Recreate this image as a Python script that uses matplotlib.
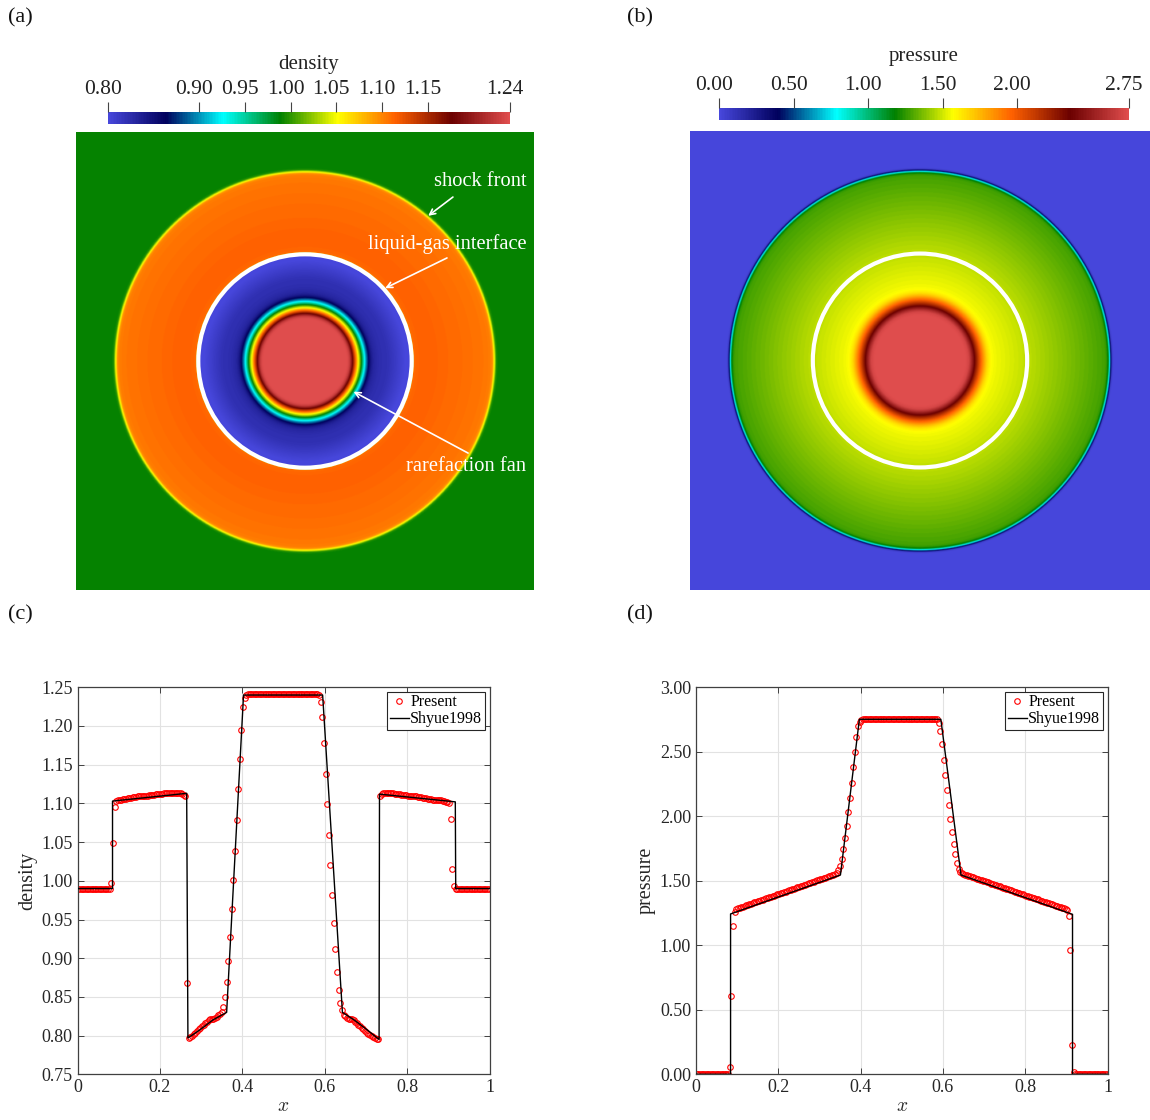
import numpy as np
import matplotlib
matplotlib.use('Agg')
import matplotlib.pyplot as plt
from matplotlib.colors import LinearSegmentedColormap
from matplotlib.patches import Circle
from matplotlib.transforms import ScaledTranslation

plt.rcParams['font.family'] = ['Liberation Serif', 'DejaVu Serif']
plt.rcParams['mathtext.fontset'] = 'cm'

# sampled cut y = 0.5 through the 2D solution (cell centres of the line)
x_present = np.linspace(0.002, 0.998, 250)

rho_present = [
    0.990, 0.990, 0.990, 0.990, 0.990, 0.990, 0.990, 0.990, 0.990, 0.990,
    0.990, 0.990, 0.990, 0.990, 0.990, 0.990, 0.990, 0.990, 0.990, 0.990,
    0.997, 1.049, 1.095, 1.103, 1.104, 1.105, 1.105, 1.106, 1.106, 1.106,
    1.107, 1.107, 1.107, 1.108, 1.108, 1.108, 1.109, 1.109, 1.109, 1.110,
    1.110, 1.110, 1.110, 1.111, 1.111, 1.111, 1.111, 1.112, 1.112, 1.112,
    1.112, 1.112, 1.113, 1.113, 1.113, 1.113, 1.113, 1.114, 1.114, 1.114,
    1.114, 1.113, 1.113, 1.112, 1.111, 1.110, 0.868, 0.797, 0.798, 0.800,
    0.802, 0.804, 0.806, 0.808, 0.810, 0.812, 0.814, 0.816, 0.818, 0.820,
    0.821, 0.822, 0.822, 0.823, 0.824, 0.826, 0.828, 0.831, 0.837, 0.850,
    0.869, 0.896, 0.928, 0.963, 1.001, 1.039, 1.079, 1.119, 1.158, 1.195,
    1.224, 1.236, 1.240, 1.241, 1.241, 1.241, 1.241, 1.241, 1.241, 1.241,
    1.241, 1.241, 1.241, 1.241, 1.241, 1.241, 1.241, 1.241, 1.241, 1.241,
    1.241, 1.241, 1.241, 1.241, 1.241, 1.241, 1.241, 1.241, 1.241, 1.241,
    1.241, 1.241, 1.241, 1.241, 1.241, 1.241, 1.241, 1.241, 1.241, 1.241,
    1.241, 1.241, 1.241, 1.241, 1.241, 1.241, 1.240, 1.231, 1.211, 1.178,
    1.138, 1.099, 1.059, 1.020, 0.982, 0.946, 0.912, 0.882, 0.859, 0.842,
    0.833, 0.827, 0.825, 0.823, 0.822, 0.822, 0.821, 0.820, 0.818, 0.816,
    0.814, 0.812, 0.810, 0.808, 0.806, 0.804, 0.802, 0.801, 0.799, 0.798,
    0.797, 0.796, 0.795, 1.110, 1.112, 1.113, 1.113, 1.113, 1.113, 1.113,
    1.113, 1.113, 1.112, 1.112, 1.112, 1.112, 1.111, 1.111, 1.111, 1.111,
    1.110, 1.110, 1.110, 1.109, 1.109, 1.109, 1.108, 1.108, 1.108, 1.107,
    1.107, 1.107, 1.106, 1.106, 1.106, 1.105, 1.105, 1.105, 1.104, 1.104,
    1.104, 1.103, 1.103, 1.102, 1.102, 1.100, 1.080, 1.015, 0.993, 0.990,
    0.990, 0.990, 0.990, 0.990, 0.990, 0.990, 0.990, 0.990, 0.990, 0.990,
    0.990, 0.990, 0.990, 0.990, 0.990, 0.990, 0.990, 0.990, 0.990, 0.990,
]

p_present = [
    0.000, 0.000, 0.000, 0.000, 0.000, 0.000, 0.000, 0.000, 0.000, 0.000,
    0.000, 0.000, 0.000, 0.000, 0.000, 0.000, 0.000, 0.000, 0.000, 0.000,
    0.057, 0.605, 1.150, 1.256, 1.279, 1.287, 1.291, 1.296, 1.300, 1.305,
    1.309, 1.314, 1.318, 1.323, 1.327, 1.332, 1.336, 1.341, 1.345, 1.350,
    1.354, 1.359, 1.363, 1.368, 1.372, 1.377, 1.381, 1.386, 1.390, 1.395,
    1.399, 1.404, 1.408, 1.413, 1.417, 1.422, 1.426, 1.431, 1.435, 1.440,
    1.444, 1.449, 1.453, 1.458, 1.462, 1.467, 1.471, 1.476, 1.480, 1.485,
    1.489, 1.494, 1.498, 1.503, 1.507, 1.512, 1.516, 1.521, 1.525, 1.530,
    1.534, 1.539, 1.543, 1.548, 1.555, 1.563, 1.584, 1.618, 1.669, 1.744,
    1.835, 1.928, 2.034, 2.145, 2.261, 2.380, 2.501, 2.612, 2.703, 2.729,
    2.747, 2.752, 2.752, 2.752, 2.752, 2.752, 2.752, 2.752, 2.752, 2.752,
    2.752, 2.752, 2.752, 2.752, 2.752, 2.752, 2.752, 2.752, 2.752, 2.752,
    2.752, 2.752, 2.752, 2.752, 2.752, 2.752, 2.752, 2.752, 2.752, 2.752,
    2.752, 2.752, 2.752, 2.752, 2.752, 2.752, 2.752, 2.752, 2.752, 2.752,
    2.752, 2.752, 2.752, 2.752, 2.752, 2.752, 2.752, 2.726, 2.661, 2.558,
    2.439, 2.320, 2.204, 2.090, 1.982, 1.881, 1.785, 1.708, 1.640, 1.594,
    1.566, 1.557, 1.552, 1.548, 1.543, 1.539, 1.535, 1.530, 1.526, 1.521,
    1.517, 1.513, 1.508, 1.504, 1.500, 1.495, 1.491, 1.487, 1.482, 1.478,
    1.474, 1.469, 1.465, 1.460, 1.456, 1.452, 1.447, 1.443, 1.439, 1.434,
    1.430, 1.426, 1.421, 1.417, 1.412, 1.408, 1.404, 1.399, 1.395, 1.391,
    1.386, 1.382, 1.378, 1.373, 1.369, 1.365, 1.360, 1.356, 1.351, 1.347,
    1.343, 1.338, 1.334, 1.330, 1.325, 1.321, 1.317, 1.312, 1.308, 1.304,
    1.299, 1.295, 1.290, 1.286, 1.280, 1.274, 1.227, 0.964, 0.227, 0.016,
    0.000, 0.000, 0.000, 0.000, 0.000, 0.000, 0.000, 0.000, 0.000, 0.000,
    0.000, 0.000, 0.000, 0.000, 0.000, 0.000, 0.000, 0.000, 0.000, 0.000,
]

# reference solution (Shyue 1998)
shyue_rho_x = [0.0, 0.085, 0.085, 0.265, 0.268, 0.296, 0.328, 0.362, 0.403,
               0.595, 0.643, 0.672, 0.704, 0.732, 0.733, 0.917, 0.918, 1.0]
shyue_rho = [0.990, 0.990, 1.103, 1.113, 0.797, 0.807, 0.820, 0.830, 1.240,
             1.240, 0.830, 0.820, 0.807, 0.795, 1.112, 1.102, 0.990, 0.990]

shyue_p_x = [0.0, 0.084, 0.084, 0.351, 0.397, 0.595, 0.644, 0.915, 0.915, 1.0]
shyue_p = [0.000, 0.000, 1.243, 1.545, 2.752, 2.752, 1.545, 1.240, 0.000, 0.000]

# location of liquid-gas interface on the cut (left side)
interface_x = 0.267

rho_ticks = [0.80, 0.90, 0.95, 1.00, 1.05, 1.10, 1.15, 1.24]
p_ticks = [0.00, 0.50, 1.00, 1.50, 2.00, 2.75]

# ParaView "Rainbow Desaturated"
rainbow_desat = LinearSegmentedColormap.from_list('rainbow_desat', [
    (0.278, 0.278, 0.859), (0.0, 0.0, 0.361), (0.0, 1.0, 1.0), (0.0, 0.502, 0.0),
    (1.0, 1.0, 0.0), (1.0, 0.380, 0.0), (0.420, 0.0, 0.0), (0.878, 0.302, 0.302)])

W, H = 1150, 1120


def box(left, top, right, bottom):
    return [left / W, 1 - bottom / H, (right - left) / W, (bottom - top) / H]


def radial_field(values):
    # rotate the left half of the cut around the centre of the domain
    r_prof = 0.5 - x_present[:125][::-1]
    v_prof = np.asarray(values)[:125][::-1]
    g = np.linspace(0, 1, 801)
    X, Y = np.meshgrid(g, g)
    return np.interp(np.hypot(X - 0.5, Y - 0.5), r_prof, v_prof)


def draw_field(ax, cax, values, vmin, vmax, ticks, title, title_xy):
    im = ax.imshow(radial_field(values), cmap=rainbow_desat, vmin=vmin, vmax=vmax,
                   extent=[0, 1, 0, 1], origin='lower', interpolation='bilinear',
                   aspect='auto')
    ax.add_patch(Circle((0.5, 0.5), 0.5 - interface_x, fill=False, ec='white', lw=3))
    ax.set_xlim(0, 1)
    ax.set_ylim(0, 1)
    ax.axis('off')
    cb = fig.colorbar(im, cax=cax, orientation='horizontal', ticklocation='top')
    cb.set_ticks(ticks)
    cb.set_ticklabels([f'{t:.2f}' for t in ticks])
    cb.outline.set_visible(False)
    cax.tick_params(direction='out', length=7, width=0.8, color='#444444',
                    pad=2.5, labelsize=15.5, labelcolor='#222222')
    shift = ScaledTranslation(-0.05, 0, fig.dpi_scale_trans)
    for lab in cax.get_xticklabels():
        lab.set_transform(lab.get_transform() + shift)
    fig.text(title_xy[0] / W, 1 - title_xy[1] / H, title, ha='center', va='center',
             fontsize=15, color='#222222')


def draw_profile(ax, y_present, line_x, line_y, ylim, yticks, ylabel):
    ax.plot(x_present, y_present, 'o', mfc='none', mec='red', ms=4, mew=0.8,
            label='Present', zorder=2)
    ax.plot(line_x, line_y, '-', color='black', lw=1.0, label='Shyue1998', zorder=3)
    ax.set_xlim(0, 1)
    ax.set_ylim(*ylim)
    ax.set_xticks([0, 0.2, 0.4, 0.6, 0.8, 1])
    ax.set_xticklabels(['0', '0.2', '0.4', '0.6', '0.8', '1'])
    ax.set_yticks(yticks)
    ax.set_yticklabels([f'{t:.2f}' for t in yticks])
    ax.grid(True, color='#e2e2e2', lw=0.8)
    ax.set_axisbelow(True)
    ax.tick_params(direction='in', top=True, right=True, length=4, width=0.7,
                   color='#404040', labelsize=13, labelcolor='#262626')
    for s in ax.spines.values():
        s.set_color('#404040')
        s.set_linewidth(0.9)
    ax.set_xlabel('$x$', fontsize=14, color='#262626', labelpad=1)
    ax.set_ylabel(ylabel, fontsize=14.5, color='#262626', labelpad=3)
    leg = ax.legend(loc='upper right', fontsize=11.5, frameon=True, fancybox=False,
                    edgecolor='#262626', framealpha=1, borderpad=0.15,
                    handlelength=1.2, handletextpad=0.1, labelspacing=0.05,
                    borderaxespad=0.3)
    leg.get_frame().set_linewidth(0.8)


fig = plt.figure(figsize=(W / 100, H / 100), dpi=100)

ax_a = fig.add_axes(box(76, 132, 534, 590))
cax_a = fig.add_axes(box(108, 112, 510, 123.5))
draw_field(ax_a, cax_a, rho_present, 0.80, 1.24, rho_ticks, 'density', (309, 64))

ann = dict(color='white', fontsize=14.8, ha='center', va='center')
arrow = dict(arrowstyle='->', color='white', lw=1.2, shrinkA=0, shrinkB=0)
ax_a.text(0.882, 0.893, 'shock front', **ann)
ax_a.annotate('', xy=(0.769, 0.817), xytext=(0.823, 0.858), arrowprops=arrow)
ax_a.text(0.810, 0.7555, 'liquid-gas interface', **ann)
ax_a.annotate('', xy=(0.675, 0.659), xytext=(0.810, 0.725), arrowprops=arrow)
ax_a.text(0.852, 0.269, 'rarefaction fan', **ann)
ax_a.annotate('', xy=(0.606, 0.433), xytext=(0.856, 0.299), arrowprops=arrow)

ax_b = fig.add_axes(box(690, 131, 1150, 590))
cax_b = fig.add_axes(box(719, 108, 1129, 120))
draw_field(ax_b, cax_b, p_present, 0.0, 2.75, p_ticks, 'pressure', (924, 57))

ax_c = fig.add_axes(box(77.5, 687.3, 489.5, 1074.3))
draw_profile(ax_c, rho_present, shyue_rho_x, shyue_rho, (0.75, 1.25),
             [0.75, 0.80, 0.85, 0.90, 0.95, 1.00, 1.05, 1.10, 1.15, 1.20, 1.25], 'density')

ax_d = fig.add_axes(box(696, 687.3, 1107.5, 1074.3))
draw_profile(ax_d, p_present, shyue_p_x, shyue_p, (0.0, 3.0),
             [0.0, 0.5, 1.0, 1.5, 2.0, 2.5, 3.0], 'pressure')

for lab, px, py in [('(a)', 8, 18), ('(b)', 627, 18), ('(c)', 8, 615), ('(d)', 627, 615)]:
    fig.text(px / W, 1 - py / H, lab, fontsize=16, va='center', ha='left', color='#111111')

fig.savefig('out.png', dpi=100)
